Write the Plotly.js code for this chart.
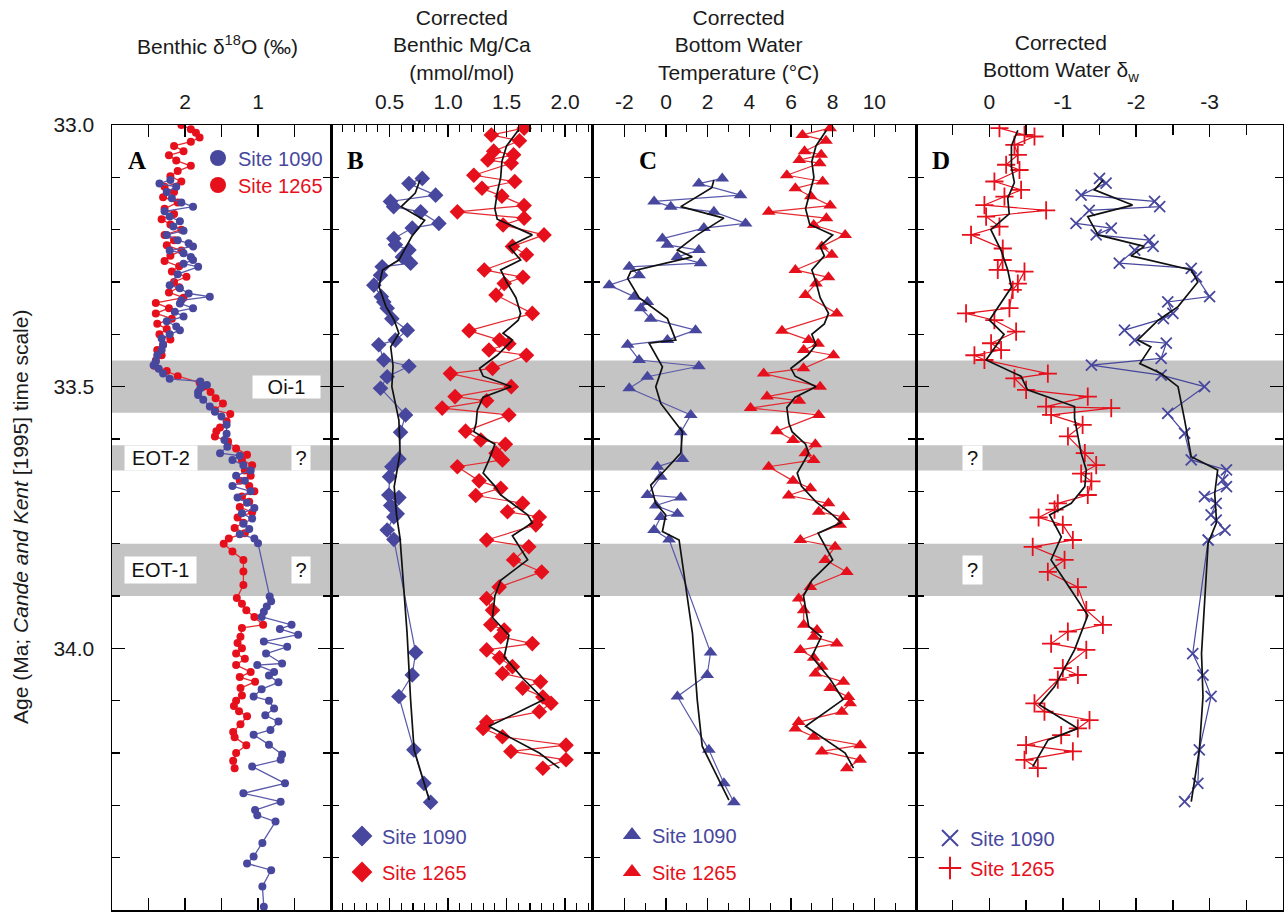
<!DOCTYPE html>
<html><head><meta charset="utf-8">
<script src="https://cdn.plot.ly/plotly-3.0.1.min.js"></script>
<style>html,body{margin:0;padding:0;background:#fff}#chart{width:1284px;height:918px}</style>
</head><body><div id="chart"></div>
<script>
// ---------------- DATA (age Ma, value) ----------------
// Panel A: benthic d18O (permil)
const d18O_1090 = [[33.105,2.20],[33.112,2.35],[33.118,2.12],[33.128,2.25],[33.140,2.18],[33.148,2.05],[33.156,1.89],[33.165,2.28],[33.175,2.21],[33.184,2.07],[33.194,2.16],[33.202,2.02],[33.210,2.25],[33.220,2.10],[33.226,1.95],[33.232,1.89],[33.240,2.21],[33.245,2.02],[33.252,1.92],[33.258,1.89],[33.265,2.02],[33.271,1.82],[33.285,2.10],[33.306,2.21],[33.312,2.07],[33.322,1.95],[33.328,1.66],[33.335,2.05],[33.341,2.07],[33.350,1.89],[33.357,2.14],[33.366,2.02],[33.375,2.25],[33.385,2.12],[33.392,2.07],[33.400,2.21],[33.408,2.32],[33.420,2.30],[33.430,2.32],[33.440,2.38],[33.452,2.40],[33.459,2.43],[33.466,2.36],[33.475,2.30],[33.485,2.21],[33.490,1.79],[33.497,1.70],[33.503,1.79],[33.510,1.82],[33.516,1.82],[33.525,1.75],[33.538,1.66],[33.548,1.59],[33.557,1.50],[33.573,1.43],[33.590,1.43],[33.602,1.46],[33.615,1.42],[33.627,1.52],[33.632,1.25],[33.640,1.35],[33.650,1.20],[33.660,1.10],[33.670,1.30],[33.680,1.18],[33.690,1.35],[33.700,1.10],[33.712,1.28],[33.722,1.15],[33.732,1.05],[33.742,1.22],[33.752,1.08],[33.762,1.20],[33.772,1.12],[33.782,1.25],[33.790,1.05],[33.799,1.00],[33.901,0.84],[33.910,0.82],[33.920,0.88],[33.930,0.92],[33.940,0.95],[33.955,0.54],[33.963,0.70],[33.974,0.45],[33.987,0.92],[33.997,0.60],[34.010,0.89],[34.029,0.67],[34.032,1.01],[34.045,0.78],[34.052,0.85],[34.065,0.72],[34.078,0.95],[34.092,1.06],[34.100,0.85],[34.115,0.78],[34.128,0.90],[34.140,0.72],[34.156,0.83],[34.165,1.06],[34.184,0.85],[34.203,0.67],[34.213,0.69],[34.226,1.08],[34.258,0.63],[34.277,1.20],[34.293,0.69],[34.309,1.04],[34.319,1.01],[34.331,0.76],[34.372,0.94],[34.398,1.06],[34.411,1.15],[34.424,0.82],[34.455,0.94],[34.494,0.92]];
const d18O_1265 = [[33.000,2.05],[33.008,1.92],[33.015,1.85],[33.024,1.80],[33.032,1.92],[33.040,2.15],[33.050,2.02],[33.058,2.22],[33.068,2.12],[33.078,1.92],[33.088,2.10],[33.098,2.20],[33.108,2.05],[33.118,2.28],[33.128,2.15],[33.138,2.30],[33.148,2.10],[33.160,2.28],[33.170,2.15],[33.180,2.32],[33.190,2.20],[33.200,2.05],[33.210,2.28],[33.220,2.15],[33.230,2.25],[33.240,2.05],[33.250,2.20],[33.260,2.28],[33.270,2.08],[33.280,2.18],[33.290,1.98],[33.300,2.15],[33.310,2.08],[33.320,2.22],[33.330,2.02],[33.340,2.40],[33.350,2.22],[33.360,2.40],[33.370,2.18],[33.380,2.38],[33.390,2.25],[33.400,2.35],[33.410,2.20],[33.420,2.30],[33.430,2.38],[33.440,2.32],[33.450,2.40],[33.460,2.42],[33.470,2.25],[33.480,2.10],[33.492,1.80],[33.500,1.75],[33.510,1.65],[33.522,1.58],[33.532,1.48],[33.545,1.59],[33.552,1.38],[33.566,1.43],[33.578,1.52],[33.585,1.57],[33.595,1.59],[33.605,1.41],[33.618,1.30],[33.630,1.15],[33.640,1.22],[33.650,1.08],[33.660,1.18],[33.670,1.10],[33.680,1.25],[33.690,1.12],[33.700,1.05],[33.710,1.22],[33.720,1.12],[33.730,1.25],[33.740,1.08],[33.750,1.28],[33.760,1.20],[33.770,1.32],[33.780,1.18],[33.790,1.40],[33.800,1.47],[33.815,1.35],[33.831,1.20],[33.853,1.20],[33.879,1.20],[33.904,1.29],[33.915,1.22],[33.927,1.16],[33.940,1.05],[33.955,0.93],[33.961,1.22],[33.978,1.24],[33.990,1.28],[34.000,1.22],[34.010,1.30],[34.020,1.18],[34.032,1.30],[34.045,1.10],[34.055,1.25],[34.064,1.04],[34.076,1.24],[34.090,1.22],[34.100,1.30],[34.110,1.33],[34.120,1.26],[34.130,1.15],[34.145,1.24],[34.160,1.34],[34.170,1.32],[34.185,1.16],[34.200,1.30],[34.215,1.34],[34.229,1.32]];

// Panel B: corrected benthic Mg/Ca (mmol/mol)
const mgca_1090 = [[33.102,0.78],[33.112,0.666],[33.134,0.894],[33.146,0.508],[33.156,0.535],[33.166,0.766],[33.188,0.922],[33.197,0.694],[33.217,0.537],[33.229,0.55],[33.239,0.666],[33.252,0.61],[33.264,0.68],[33.271,0.437],[33.287,0.423],[33.306,0.366],[33.328,0.43],[33.338,0.451],[33.350,0.48],[33.370,0.52],[33.392,0.652],[33.411,0.55],[33.420,0.408],[33.449,0.451],[33.461,0.666],[33.481,0.48],[33.503,0.423],[33.554,0.637],[33.587,0.594],[33.638,0.58],[33.653,0.52],[33.672,0.50],[33.707,0.494],[33.712,0.58],[33.727,0.51],[33.743,0.566],[33.749,0.537],[33.774,0.48],[33.792,0.537],[34.008,0.723],[34.051,0.694],[34.092,0.58],[34.194,0.708],[34.258,0.794],[34.294,0.851]];
const mgca_1265 = [[33.006,1.65],[33.019,1.37],[33.030,1.61],[33.050,1.39],[33.057,1.56],[33.067,1.34],[33.073,1.54],[33.096,1.22],[33.108,1.57],[33.121,1.29],[33.136,1.46],[33.154,1.65],[33.166,1.08],[33.178,1.65],[33.191,1.47],[33.210,1.82],[33.232,1.55],[33.248,1.67],[33.277,1.31],[33.291,1.64],[33.303,1.48],[33.325,1.41],[33.360,1.72],[33.393,1.18],[33.411,1.44],[33.418,1.52],[33.430,1.35],[33.440,1.67],[33.465,1.38],[33.475,1.02],[33.500,1.54],[33.519,1.06],[33.527,1.33],[33.541,0.95],[33.554,1.52],[33.585,1.15],[33.602,1.28],[33.610,1.49],[33.627,1.41],[33.640,1.465],[33.653,1.08],[33.680,1.265],[33.694,1.45],[33.708,1.237],[33.723,1.637],[33.739,1.508],[33.749,1.78],[33.764,1.75],[33.793,1.33],[33.806,1.69],[33.831,1.56],[33.854,1.80],[33.883,1.437],[33.905,1.33],[33.927,1.38],[33.955,1.365],[33.965,1.48],[33.978,1.45],[33.991,1.72],[34.003,1.33],[34.018,1.44],[34.035,1.55],[34.048,1.465],[34.064,1.79],[34.076,1.637],[34.093,1.81],[34.105,1.88],[34.121,1.78],[34.141,1.33],[34.153,1.30],[34.169,1.465],[34.185,2.008],[34.197,1.537],[34.213,2.008],[34.229,1.81]];
const mgca_1090_smooth = [[33.105,0.76],[33.130,0.72],[33.156,0.60],[33.182,0.80],[33.213,0.69],[33.240,0.62],[33.258,0.58],[33.277,0.44],[33.309,0.41],[33.347,0.47],[33.373,0.54],[33.398,0.58],[33.424,0.51],[33.460,0.53],[33.500,0.52],[33.564,0.58],[33.627,0.59],[33.691,0.54],[33.745,0.56],[33.790,0.59],[33.971,0.65],[34.098,0.68],[34.194,0.71],[34.290,0.84]];
const mgca_1265_smooth = [[33.010,1.60],[33.040,1.50],[33.070,1.46],[33.100,1.45],[33.130,1.42],[33.160,1.40],[33.180,1.42],[33.210,1.72],[33.232,1.52],[33.258,1.62],[33.277,1.45],[33.300,1.50],[33.330,1.58],[33.360,1.62],[33.373,1.60],[33.398,1.47],[33.411,1.55],[33.440,1.42],[33.465,1.27],[33.480,1.30],[33.500,1.54],[33.520,1.30],[33.545,1.25],[33.570,1.24],[33.586,1.22],[33.610,1.40],[33.640,1.35],[33.665,1.30],[33.690,1.40],[33.707,1.45],[33.745,1.68],[33.760,1.72],[33.785,1.55],[33.831,1.68],[33.870,1.45],[33.900,1.40],[33.941,1.38],[33.975,1.52],[34.016,1.48],[34.060,1.65],[34.098,1.82],[34.149,1.35],[34.200,1.78],[34.229,1.95]];

// Panel C: corrected bottom water temperature (deg C)
const temp_1090 = [[33.102,2.70],[33.112,1.58],[33.134,3.58],[33.146,-0.57],[33.156,0.23],[33.166,2.30],[33.188,3.82],[33.197,1.82],[33.217,-0.17],[33.229,0.07],[33.239,1.58],[33.252,0.55],[33.264,1.66],[33.271,-1.76],[33.287,-1.29],[33.306,-2.72],[33.328,-1.53],[33.338,-0.89],[33.350,-1.21],[33.370,-0.73],[33.392,1.42],[33.411,0.07],[33.420,-1.84],[33.449,-1.29],[33.461,1.58],[33.481,-0.89],[33.503,-1.76],[33.554,1.19],[33.587,0.71],[33.638,0.79],[33.653,-0.41],[33.672,-0.25],[33.707,-0.89],[33.712,0.71],[33.727,-0.49],[33.743,0.55],[33.749,-0.25],[33.774,-0.57],[33.792,0.15],[34.008,2.14],[34.051,1.98],[34.092,0.55],[34.194,2.06],[34.258,2.78],[34.294,3.26]];
const temp_1265 = [[33.006,7.88],[33.019,6.55],[33.030,7.68],[33.050,6.65],[33.057,7.45],[33.067,6.40],[33.073,7.38],[33.096,5.80],[33.108,7.52],[33.121,6.21],[33.136,6.95],[33.154,7.88],[33.166,4.93],[33.178,7.70],[33.191,7.09],[33.210,8.60],[33.232,7.48],[33.248,7.96],[33.277,6.21],[33.291,7.80],[33.303,7.20],[33.325,6.69],[33.360,8.20],[33.393,5.57],[33.411,6.85],[33.418,7.30],[33.430,6.61],[33.440,8.04],[33.465,6.60],[33.475,4.69],[33.500,7.40],[33.519,4.85],[33.527,6.40],[33.541,4.06],[33.554,7.33],[33.585,5.33],[33.602,6.10],[33.610,7.17],[33.627,6.69],[33.640,7.09],[33.653,4.93],[33.680,6.10],[33.694,6.93],[33.708,5.89],[33.723,7.80],[33.739,7.33],[33.749,8.52],[33.764,8.36],[33.793,6.45],[33.806,8.12],[33.831,7.64],[33.854,8.68],[33.883,6.93],[33.905,6.37],[33.927,6.61],[33.955,6.61],[33.965,7.25],[33.978,7.09],[33.991,8.20],[34.003,6.45],[34.018,7.09],[34.035,7.48],[34.048,7.17],[34.064,8.52],[34.076,7.88],[34.093,8.76],[34.105,8.84],[34.121,8.44],[34.141,6.37],[34.153,6.21],[34.169,7.09],[34.185,9.32],[34.197,7.48],[34.213,9.32],[34.229,8.68]];
const temp_1090_smooth = [[33.105,2.30],[33.120,2.20],[33.156,0.71],[33.178,2.78],[33.210,1.50],[33.239,0.55],[33.252,1.26],[33.280,-1.69],[33.293,-1.84],[33.330,-1.29],[33.370,0.07],[33.411,0.47],[33.417,-0.81],[33.462,-0.17],[33.500,-0.49],[33.532,-0.25],[33.586,0.79],[33.627,0.71],[33.665,-0.17],[33.688,-0.73],[33.723,-0.49],[33.745,-0.01],[33.777,-0.17],[33.793,0.63],[33.971,1.27],[34.098,1.50],[34.187,1.74],[34.290,3.02]];
const temp_1265_smooth = [[33.010,7.70],[33.040,7.20],[33.070,7.00],[33.100,7.10],[33.130,6.90],[33.160,6.70],[33.190,6.90],[33.210,8.00],[33.232,7.40],[33.250,7.60],[33.277,7.00],[33.300,7.20],[33.330,7.40],[33.360,7.80],[33.380,7.60],[33.400,7.00],[33.420,7.20],[33.440,6.80],[33.465,6.00],[33.480,6.20],[33.500,7.20],[33.520,6.20],[33.540,5.80],[33.570,5.90],[33.586,6.05],[33.610,6.70],[33.627,6.85],[33.665,6.30],[33.690,6.50],[33.720,7.20],[33.745,8.00],[33.760,8.40],[33.780,7.30],[33.831,8.00],[33.870,7.00],[33.900,6.60],[33.958,6.85],[33.978,7.45],[34.016,7.00],[34.060,7.90],[34.098,8.50],[34.149,6.70],[34.200,8.60],[34.229,9.00]];

// Panel D: corrected bottom water delta_w (permil)
const dw_1090 = [[33.102,-1.50],[33.111,-1.59],[33.134,-1.25],[33.146,-2.25],[33.156,-2.32],[33.163,-1.36],[33.188,-1.18],[33.197,-1.66],[33.210,-1.455],[33.220,-2.18],[33.232,-2.23],[33.239,-1.98],[33.264,-1.77],[33.274,-2.75],[33.290,-2.82],[33.328,-3.00],[33.338,-2.43],[33.360,-2.50],[33.370,-2.37],[33.392,-1.84],[33.411,-1.98],[33.417,-2.41],[33.446,-2.34],[33.459,-1.39],[33.478,-2.34],[33.500,-2.93],[33.551,-2.43],[33.589,-2.66],[33.640,-2.75],[33.659,-3.23],[33.678,-3.18],[33.691,-3.23],[33.710,-2.93],[33.723,-3.09],[33.745,-3.02],[33.755,-3.09],[33.774,-3.21],[33.793,-2.98],[34.010,-2.77],[34.051,-2.91],[34.092,-3.02],[34.194,-2.86],[34.258,-2.84],[34.293,-2.66]];
const dw_1265 = [[33.006,-0.137],[33.019,-0.478],[33.022,-0.614],[33.038,-0.341],[33.057,-0.387],[33.076,-0.228],[33.086,-0.41],[33.108,-0.068],[33.124,-0.432],[33.137,-0.205],[33.153,0.068],[33.163,-0.773],[33.175,0.045],[33.194,-0.137],[33.210,0.25],[33.236,-0.182],[33.258,-0.18],[33.277,-0.114],[33.280,-0.478],[33.303,-0.387],[33.315,-0.318],[33.350,-0.273],[33.360,0.318],[33.373,-0.068],[33.395,-0.364],[33.417,-0.023],[33.430,-0.159],[33.440,0.204],[33.449,0.068],[33.475,-0.796],[33.484,-0.341],[33.506,-0.50],[33.519,-1.34],[33.538,-0.773],[33.541,-1.66],[33.554,-0.841],[33.573,-1.27],[33.595,-1.07],[33.627,-1.30],[33.650,-1.455],[33.666,-1.25],[33.681,-1.39],[33.707,-1.34],[33.723,-0.932],[33.735,-0.887],[33.750,-0.67],[33.764,-1.0],[33.793,-1.137],[33.806,-0.59],[33.831,-1.024],[33.854,-0.796],[33.883,-1.205],[33.927,-1.32],[33.955,-1.546],[33.968,-1.069],[33.991,-0.841],[34.003,-1.32],[34.038,-1.0],[34.051,-1.205],[34.060,-0.932],[34.105,-0.614],[34.121,-0.75],[34.137,-1.364],[34.153,-1.205],[34.166,-0.978],[34.185,-0.50],[34.197,-1.137],[34.213,-0.478],[34.229,-0.66]];
const dw_1090_smooth = [[33.105,-1.55],[33.124,-1.43],[33.153,-1.95],[33.175,-1.34],[33.210,-1.48],[33.232,-2.11],[33.250,-1.93],[33.277,-2.75],[33.300,-2.84],[33.347,-2.57],[33.373,-2.30],[33.411,-2.02],[33.424,-2.20],[33.456,-2.05],[33.475,-2.34],[33.500,-2.57],[33.564,-2.66],[33.634,-2.75],[33.659,-3.11],[33.704,-3.07],[33.748,-3.09],[33.761,-3.09],[33.799,-2.98],[34.010,-2.89],[34.092,-2.91],[34.194,-2.86],[34.293,-2.75]];
const dw_1265_smooth = [[33.010,-0.387],[33.040,-0.30],[33.080,-0.30],[33.110,-0.34],[33.140,-0.25],[33.170,-0.27],[33.200,-0.02],[33.240,-0.16],[33.277,-0.25],[33.310,-0.30],[33.373,0.0],[33.400,-0.20],[33.449,0.045],[33.480,-0.43],[33.506,-0.52],[33.538,-1.16],[33.560,-1.16],[33.589,-1.20],[33.627,-1.25],[33.659,-1.32],[33.691,-1.30],[33.723,-1.115],[33.745,-0.82],[33.787,-0.98],[33.831,-0.84],[33.869,-1.02],[33.937,-1.34],[34.003,-1.16],[34.073,-0.887],[34.108,-0.68],[34.153,-1.205],[34.175,-0.80],[34.226,-0.59]];

// Event bands (Ma) and labels
const bandNames = ['Oi-1','EOT-2','EOT-1'];
const bandAges = [[33.45,33.55],[33.612,33.660],[33.80,33.90]];
const siteNames = ['Site 1090','Site 1265'];

// tick labels
const tickA = [1,2], tickAtext = ['1','2'];
const tickB = [0.5,1.0,1.5,2.0], tickBtext = ['0.5','1.0','1.5','2.0'];
const tickC = [-2,0,2,4,6,8,10], tickCtext = ['-2','0','2','4','6','8','10'];
const tickD = [0,-1,-2,-3], tickDtext = ['0','-1','-2','-3'];

// ---------------- STYLE ----------------
const BLUE='#47479e', BLUE_LINE='#5959ab', RED='#e6101c', RED_LINE='#e52a30';
const W=1284, H=918;
const px = v => v/W, py = v => 1 - v/H;
const FONT = 'Liberation Sans, Arial, sans-serif';
const yDom = [py(910), py(125)];
const dom = {A:[px(112),px(331)], B:[px(331),px(592)], C:[px(592),px(916)], D:[px(916),px(1283)]};

function series(pairs, xa, ya, opts){
  return Object.assign({type:'scatter', x:pairs.map(p=>p[1]), y:pairs.map(p=>p[0]), xaxis:xa, yaxis:ya, showlegend:false, hoverinfo:'x+y'}, opts);
}
function dataTrace(pairs, xa, ya, color, lcolor, symbol, size, lw){
  return series(pairs, xa, ya, {mode:'lines+markers', line:{color:lcolor, width:lw||1.3},
    marker:{symbol:symbol, size:size, color:color, line:{width:0}}});
}
function openTrace(pairs, xa, ya, color, symbol, size){
  return series(pairs, xa, ya, {mode:'lines+markers', line:{color:color, width:1.2},
    marker:{symbol:symbol, size:size, color:color, line:{color:color, width:1.8}}});
}
function smoothTrace(pairs, xa, ya){
  return series(pairs, xa, ya, {mode:'lines', line:{color:'#111', width:1.7}});
}
function legendTrace(name, xa, ya, color, symbol, legend, open){
  return {type:'scatter', mode:'markers', x:[null], y:[null], xaxis:xa, yaxis:ya, name:name, legend:legend, showlegend:true,
    marker:{symbol:symbol, size:16, color:color, line:{color:color, width: open?2:0}}};
}

const traces = [
  dataTrace(d18O_1265,'x','y',RED,RED_LINE,'circle',8,1.3),
  dataTrace(d18O_1090,'x','y',BLUE,BLUE_LINE,'circle',8,1.3),
  dataTrace(mgca_1090,'x2','y2',BLUE,BLUE_LINE,'diamond',12,1.2),
  dataTrace(mgca_1265,'x2','y2',RED,RED_LINE,'diamond',12,1.2),
  smoothTrace(mgca_1090_smooth,'x2','y2'),
  smoothTrace(mgca_1265_smooth,'x2','y2'),
  dataTrace(temp_1090,'x3','y3',BLUE,BLUE_LINE,'triangle-up',12,1.2),
  dataTrace(temp_1265,'x3','y3',RED,RED_LINE,'triangle-up',12,1.2),
  smoothTrace(temp_1090_smooth,'x3','y3'),
  smoothTrace(temp_1265_smooth,'x3','y3'),
  openTrace(dw_1090,'x4','y4',BLUE,'x-thin-open',11),
  openTrace(dw_1265,'x4','y4',RED,'cross-thin-open',13),
  smoothTrace(dw_1090_smooth,'x4','y4'),
  smoothTrace(dw_1265_smooth,'x4','y4'),
  legendTrace(siteNames[0],'x','y',BLUE,'circle','legend'),
  legendTrace(siteNames[1],'x','y',RED,'circle','legend2'),
  legendTrace(siteNames[0],'x2','y2',BLUE,'diamond','legend3'),
  legendTrace(siteNames[1],'x2','y2',RED,'diamond','legend4'),
  legendTrace(siteNames[0],'x3','y3',BLUE,'triangle-up','legend5'),
  legendTrace(siteNames[1],'x3','y3',RED,'triangle-up','legend6'),
  legendTrace(siteNames[0],'x4','y4',BLUE,'x-thin-open','legend7',true),
  legendTrace(siteNames[1],'x4','y4',RED,'cross-thin-open','legend8',true)
];

function xax(domain, anchor, range, tv, tt, minor){
  return {domain:domain, anchor:anchor, range:range, side:'top', tickmode:'array', tickvals:tv, ticktext:tt,
    ticks:'inside', ticklen:12, tickwidth:1.4, tickcolor:'#000', showline:true, linecolor:'#000', linewidth:1.5,
    mirror:'ticks', showgrid:false, zeroline:false, tickfont:{family:FONT, size:21, color:'#1a1a1a'},
    ticklabelstandoff:6, fixedrange:true,
    minor:Object.assign({ticks:'inside', ticklen:7, tickwidth:1.2, tickcolor:'#000', showgrid:false}, minor)};
}
function yax(anchor, labels){
  const a = {domain:yDom, anchor:anchor, range:[34.5,33.0], tick0:33, dtick:0.5, tickformat:'.1f',
    ticks:'inside', ticklen:13, tickwidth:1.4, tickcolor:'#000', showline:true, linecolor:'#000', linewidth:1.5,
    mirror:'ticks', showgrid:false, zeroline:false, showticklabels:labels,
    tickfont:{family:FONT, size:21, color:'#1a1a1a'}, ticklabelstandoff:12, fixedrange:true,
    minor:{tick0:33, dtick:0.1, ticks:'inside', ticklen:8, tickwidth:1.2, tickcolor:'#000', showgrid:false}};
  if(anchor !== 'x') a.matches = 'y';
  return a;
}

const shapes = bandAges.map(b => ({type:'rect', xref:'paper', x0:px(112), x1:px(1283), yref:'y', y0:b[0], y1:b[1],
  fillcolor:'#c4c4c4', line:{width:0}, layer:'below'}));

function boxLabel(text, cx, age, w, h){
  return {text:text, xref:'paper', x:px(cx), yref:'y', y:age, xanchor:'center', yanchor:'middle', showarrow:false,
    bgcolor:'#ffffff', width:w, height:h, borderpad:0, font:{family:FONT, size:20, color:'#111'}};
}
function header(text, xref, xval, ycen){
  return {text:text, xref:xref, x:xval, yref:'paper', y:py(ycen), xanchor:'center', yanchor:'middle', showarrow:false,
    font:{family:FONT, size:21, color:'#1a1a1a'}};
}
function panelLabel(t, cx, cy){
  return {text:'<b>'+t+'</b>', xref:'paper', x:px(cx), yref:'paper', y:py(cy), xanchor:'center', yanchor:'middle', showarrow:false,
    font:{family:'Liberation Serif, Times New Roman, serif', size:25, color:'#000'}};
}

const annotations = [
  header('Benthic δ<sup>18</sup>O (‰)','x',1.55,45),
  header('Corrected<br>Benthic Mg/Ca<br>(mmol/mol)','x2',1.12,45),
  header('Corrected<br>Bottom Water<br>Temperature (°C)','x3',3.5,45),
  header('Corrected<br>Bottom Water δ<sub>w</sub>','x4',-0.98,58),
  {text:'Age (Ma; <i>Cande and Kent</i> [1995] time scale)', xref:'paper', x:px(20), yref:'paper', y:py(517),
    xanchor:'center', yanchor:'middle', textangle:-90, showarrow:false, font:{family:FONT, size:21, color:'#1a1a1a'}},
  panelLabel('A',137,161), panelLabel('B',355,160), panelLabel('C',648,160), panelLabel('D',941,160),
  boxLabel(bandNames[0], 286, 33.50, 67, 22),
  boxLabel(bandNames[1], 161, 33.636, 72, 24),
  boxLabel('?', 301, 33.636, 18, 24),
  boxLabel(bandNames[2], 161, 33.85, 71, 26),
  boxLabel('?', 301, 33.85, 18, 26),
  boxLabel('?', 973, 33.636, 19, 24),
  boxLabel('?', 973, 33.85, 19, 28)
];

function leg(x, y, color){
  return {x:px(x), y:py(y), xanchor:'left', yanchor:'middle', bgcolor:'rgba(0,0,0,0)', borderwidth:0,
    itemwidth:30, font:{family:FONT, size:20, color:color}};
}

const layout = {
  width:W, height:H, margin:{l:0,r:0,t:0,b:0}, paper_bgcolor:'#fff', plot_bgcolor:'rgba(0,0,0,0)',
  showlegend:true, hovermode:false,
  xaxis: xax(dom.A,'y',[3,0],tickA,tickAtext,{tickmode:'array', tickvals:[0.5,1.5,2.5], ticklen:12}),
  xaxis2: xax(dom.B,'y2',[0,2.23],tickB,tickBtext,{tick0:0, dtick:0.1}),
  xaxis3: xax(dom.C,'y3',[-3.55,12],tickC,tickCtext,{tickmode:'array', tickvals:[-1,1,3,5,7,9,11]}),
  xaxis4: xax(dom.D,'y4',[1,-4],tickD,tickDtext,{tickmode:'array', tickvals:[0.5,-0.5,-1.5,-2.5,-3.5], ticklen:10}),
  yaxis: yax('x', true), yaxis2: yax('x2', false), yaxis3: yax('x3', false), yaxis4: yax('x4', false),
  shapes: shapes, annotations: annotations,
  legend: leg(198,158,BLUE), legend2: leg(198,185,RED),
  legend3: leg(342,836,BLUE), legend4: leg(342,872,RED),
  legend5: leg(612,835,BLUE), legend6: leg(612,872,RED),
  legend7: leg(930,838,BLUE), legend8: leg(930,868,RED)
};

Plotly.newPlot('chart', traces, layout, {staticPlot:true, displayModeBar:false});
</script></body></html>
